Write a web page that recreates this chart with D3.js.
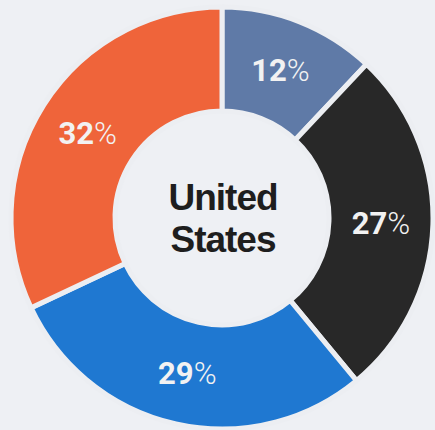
<!DOCTYPE html>
<html>
<head>
<meta charset="utf-8">
<title>United States</title>
<style>
body {
  margin: 0;
  background-color: #eef0f4;
}
svg {
  display: block;
  background-color: #eef0f4;
}
</style>
</head>
<body>
<div id="chart"></div>
<script src="https://d3js.org/d3.v7.min.js"></script>
<script>
// values, clockwise from 12 o'clock
var categories = ["A", "B", "C", "D"];
var shares = [12, 27, 29, 32];
var labels = ["12", "27", "29", "32"];
var colors = ["#5f7aa7", "#282828", "#1f78d1", "#ef643a"];
var centerLines = ["United", "States"];

var width = 435,
  height = 430,
  cx = 222,
  cy = 218,
  outerR = 211,
  innerR = 107;

var svg = d3.select("#chart")
  .append("svg")
  .attr("width", width)
  .attr("height", height);

var g = svg.append("g")
  .attr("transform", "translate(" + cx + "," + cy + ")");

var pie = d3.pie().sort(null).value(function(d) { return d; });
var arc = d3.arc().innerRadius(innerR).outerRadius(outerR);

var arcs = pie(shares);

g.selectAll("path.slice")
  .data(arcs)
  .enter().append("path")
  .attr("class", "slice")
  .attr("d", arc)
  .attr("fill", function(d, i) { return colors[i]; })
  .attr("stroke", "#eceef2")
  .attr("stroke-width", 5)
  .attr("stroke-linejoin", "miter");

var lbl = g.selectAll("text.pct")
  .data(arcs)
  .enter().append("text")
  .attr("class", "pct")
  .attr("transform", function(d) {
    var c = arc.centroid(d);
    return "translate(" + c[0] + "," + (c[1] + 11) + ")";
  })
  .attr("text-anchor", "middle")
  .style("font-family", "Roboto, sans-serif")
  .style("font-size", "31px")
  .style("fill", "#f2f2f2");

lbl.append("tspan")
  .style("font-weight", "bold")
  .text(function(d, i) { return labels[i]; });
lbl.append("tspan")
  .style("font-weight", "300")
  .text("%");

// two-line title in the hole
g.selectAll("text.center")
  .data(centerLines)
  .enter().append("text")
  .attr("class", "center")
  .attr("x", 1)
  .attr("y", function(d, i) { return -8 + i * 42; })
  .attr("text-anchor", "middle")
  .style("font-family", "'Liberation Sans', sans-serif")
  .style("font-weight", "bold")
  .style("font-size", "37px")
  .style("letter-spacing", "-1px")
  .style("fill", "#1e1e1e")
  .text(function(d) { return d; });
</script>
</body>
</html>
